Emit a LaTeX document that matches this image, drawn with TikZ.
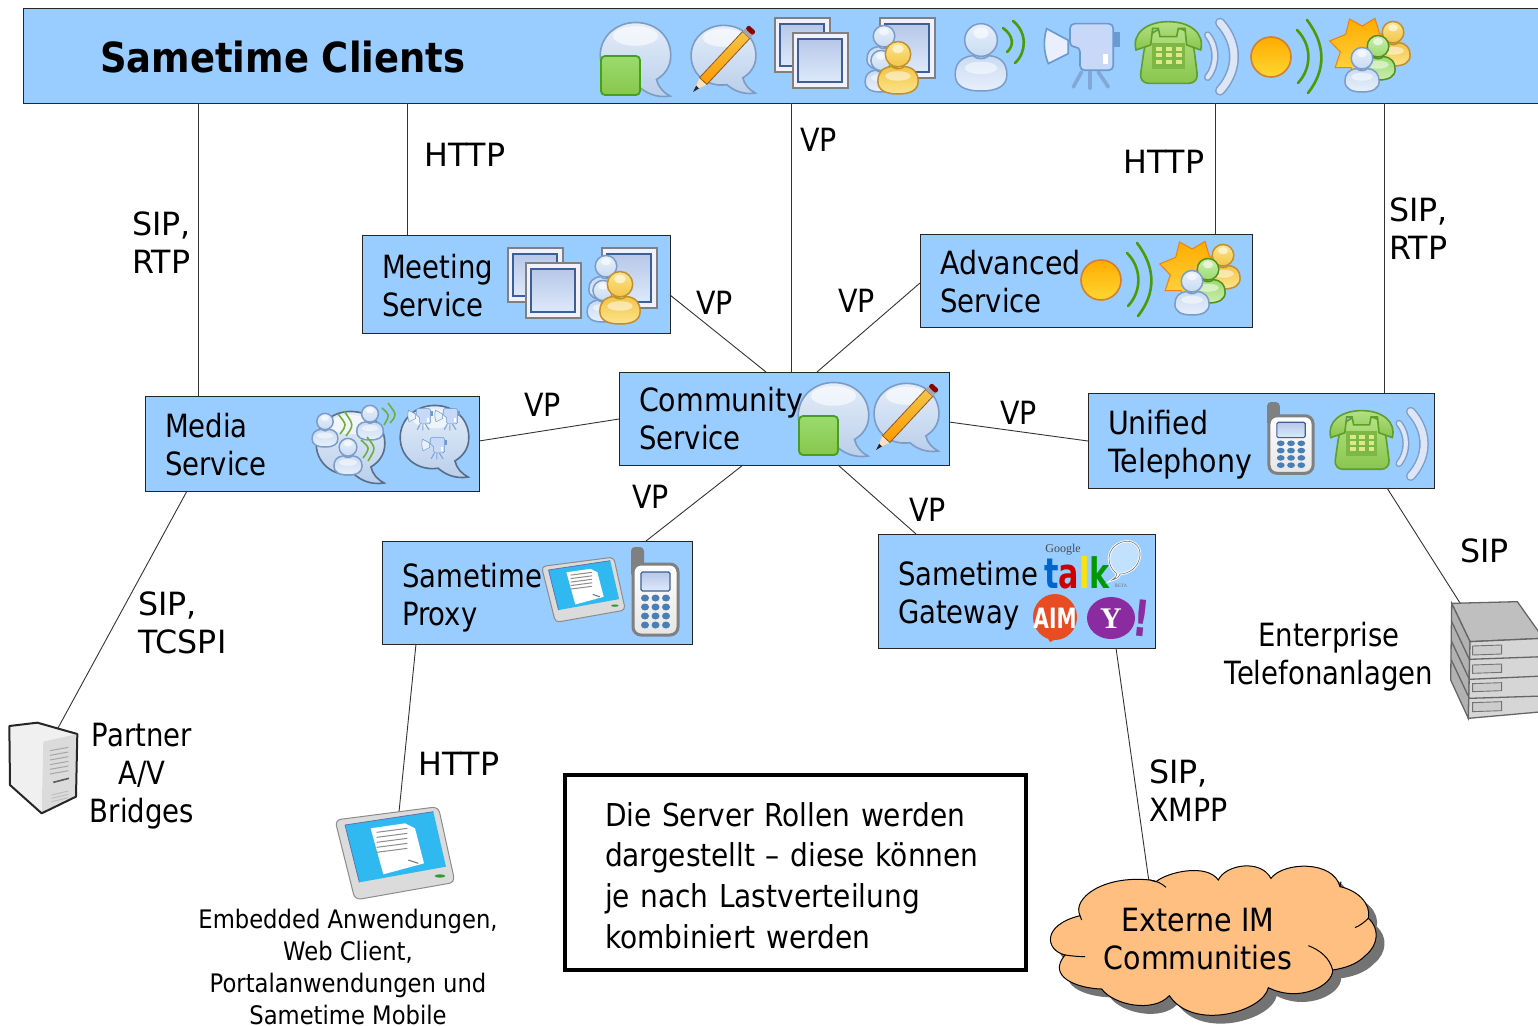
\documentclass[tikz,border=0pt]{standalone}
\usepackage{fontspec}
\setmainfont[FakeStretch=0.89]{DejaVu Sans}
\newfontfamily\narrowf[FakeStretch=0.86]{DejaVu Sans}
\newfontfamily\widef[FakeStretch=0.99]{DejaVu Sans}
\newfontfamily\talkfont[FakeStretch=0.72]{DejaVu Sans}
\newfontfamily\logoserif{Liberation Serif}
\definecolor{boxblue}{HTML}{99CCFF}
\definecolor{cloudfill}{HTML}{FFBF80}
\definecolor{bubline}{HTML}{7C9CC4}
\definecolor{bubtop}{HTML}{E4EDFA}
\definecolor{bubbot}{HTML}{B9CEEA}
\definecolor{wavegreen}{HTML}{4E9A06}
\definecolor{frametop}{HTML}{B7C7E8}
\definecolor{framebot}{HTML}{DDE9FB}
\definecolor{frameline}{HTML}{3B5F96}
\definecolor{ptop}{HTML}{C9DBF2}
\definecolor{pbot}{HTML}{E8F0FB}
\definecolor{pline}{HTML}{7B9CC9}
\definecolor{ytop}{HTML}{F3C548}
\definecolor{ybot}{HTML}{FBE48C}
\definecolor{yline}{HTML}{C09030}
\definecolor{gtop}{HTML}{9ADB6E}
\definecolor{gbot}{HTML}{CDEDB0}
\definecolor{gline}{HTML}{4F9020}
\definecolor{camfill}{HTML}{C8D8F8}
\definecolor{camline}{HTML}{6A9AD0}
\definecolor{phonetop}{HTML}{B4E084}
\definecolor{phonebot}{HTML}{88C64C}
\definecolor{phoneline}{HTML}{5F9E28}
\definecolor{phonepad}{HTML}{7DB845}
\definecolor{phonekey}{HTML}{DDE88A}
\definecolor{wavefill}{HTML}{DCE6F6}
\definecolor{waveline}{HTML}{7F9DC6}
\definecolor{keyblue}{HTML}{4A7FB5}
\definecolor{scrcyan}{HTML}{30B8F0}
\definecolor{aimred}{HTML}{E84C22}
\definecolor{yahoo}{HTML}{8A2BA0}
\tikzset{
  box/.style={draw=black!85,fill=boxblue,anchor=north west,align=left,inner xsep=20pt,inner ysep=0pt,outer sep=0pt,line width=1pt,font=\fontsize{32}{38}\selectfont},
  lbl/.style={anchor=west,align=left,inner sep=0pt,font=\fontsize{32}{38}\selectfont},
  clbl/.style={anchor=center,align=center,inner sep=0pt,font=\fontsize{32}{38}\selectfont},
  link/.style={draw=black!80,line width=0.9pt},
  gwave/.style={draw=wavegreen,line width=2.6pt,line cap=round},
}
\newcommand{\dn}[1]{\rule{0pt}{#1pt}}
% speech bubble, 100 units wide
\newcommand{\icBubble}[4][bubline]{\begin{scope}[shift={(#2,#3)},scale=#4]
\draw[#1,line width=1.6pt,top color=bubtop,bottom color=bubbot]
 (96,100) .. controls (78,103) and (64,96) .. (55,88) .. controls (25,92) and (3,72) .. (3,46)
 .. controls (3,20) and (25,2) .. (50,2) .. controls (77,2) and (97,20) .. (97,46)
 .. controls (97,62) and (88,72) .. (78,78) .. controls (80,88) and (88,96) .. (96,100) -- cycle;
\fill[white,opacity=.6] (50,20) ellipse (30 and 13);
\end{scope}}
\newcommand{\icSquare}[2]{\draw[draw=gline!85!green,line width=1.8pt,rounded corners=4pt,top color=gtop,bottom color=phonebot] (#1,#2) rectangle ++(39,39);}
\newcommand{\icPencil}[4]{\begin{scope}[shift={(#1,#2)},rotate=#3]
\fill[black!85] (0,0) -- (7,-2) -- (7,2) -- cycle;
\fill[orange!25!white] (7,-2) -- (15,-5) -- (15,5) -- (7,2) -- cycle;
\draw[draw=brown!70!black,line width=.8pt,top color=ytop,bottom color=orange!80!yellow] (15,-5) rectangle (#4-9,5);
\fill[black!35] (#4-9,-5) rectangle (#4-5,5);
\fill[red!55!black,rounded corners=2pt] (#4-5,-5) rectangle (#4,5);
\end{scope}}
\newcommand{\icFrame}[4]{\draw[black!50,fill=white!94!blue,line width=1.2pt] (#1,#2) rectangle (#3,#4);
\draw[draw=frameline,line width=1.2pt,top color=frametop,bottom color=framebot] (#1+5,#2+6) rectangle (#3-6,#4-6);}
% person: #1 centre x, #2 top y, #3 scale, #4 top colour, #5 bottom colour, #6 line
\newcommand{\icPerson}[6]{\begin{scope}[shift={(#1,#2)},scale=#3]
\draw[draw=#6,line width=1.5pt,top color=#4,bottom color=#5]
 (-12,48) .. controls (-30,50) and (-38,60) .. (-38,76) .. controls (-38,92) and (-25,100) .. (0,100)
 .. controls (25,100) and (38,92) .. (38,76) .. controls (38,60) and (30,50) .. (12,48)
 .. controls (5,54) and (-5,54) .. (-12,48) -- cycle;
\fill[white,opacity=.5] (0,66) ellipse (24 and 9);
\draw[draw=#6,line width=1.5pt,top color=#5,bottom color=#4] (0,25) circle (24);
\fill[white,opacity=.6] (0,15) ellipse (11 and 8);
\end{scope}}
\newcommand{\bluePerson}[3]{\icPerson{#1}{#2}{#3}{ptop}{pbot}{pline}}
\newcommand{\yellowPerson}[3]{\icPerson{#1}{#2}{#3}{ytop}{ybot}{yline}}
\newcommand{\greenPerson}[3]{\icPerson{#1}{#2}{#3}{gtop}{gbot}{gline}}
% camera, in its own 230x205 unit box
\newcommand{\icCamera}[3]{\begin{scope}[shift={(#1,#2)},scale=#3,draw=camline,line width=#3*5pt]
\draw[fill=white!60!camfill] (5,20) -- (70,55) -- (70,95) -- (10,125) .. controls (-5,90) and (-5,50) .. (5,20) -- cycle;
\fill[camline] (195,30) rectangle (225,75);
\draw[line width=#3*11pt,line cap=round,draw=camline!85] (110,150) -- (85,195) (135,150) -- (135,200) (160,150) -- (190,195);
\draw[rounded corners=#3*14pt,fill=camfill] (75,5) -- (205,5) -- (205,145) -- (105,145) -- (105,75) -- (75,75) -- cycle;
\fill[white] (175,95) rectangle (188,125);
\end{scope}}
% green telephone with pale waves, in zoom units
\newcommand{\icPhone}[3]{\begin{scope}[shift={(#1,#2)},scale=#3]
\draw[draw=phoneline,line width=1.6pt,top color=phonetop,bottom color=phonebot,rounded corners=#3*28pt] (345,130) -- (375,85) -- (470,85) -- (490,130) -- (505,250) -- (328,250) -- cycle;
\draw[draw=phoneline,line width=1.6pt,top color=phonetop,bottom color=phonebot] (318,150) .. controls (305,100) and (350,65) .. (415,65) .. controls (480,65) and (525,100) .. (512,150) -- (470,135) -- (465,85) -- (445,85) -- (440,110) -- (390,110) -- (385,85) -- (368,85) -- (362,135) -- cycle;
\fill[phonepad] (365,130) rectangle (465,208);
\foreach \a in {388,417,446}\foreach \b in {147,166,186}{\fill[phonekey] (\a-9,\b-6) rectangle (\a+9,\b+6);}
\draw[waveline,line width=#3*22pt,line cap=round] (533,105) .. controls (562,140) and (562,197) .. (533,232);
\draw[wavefill,line width=#3*13pt,line cap=round] (533,105) .. controls (562,140) and (562,197) .. (533,232);
\draw[waveline,line width=#3*30pt,line cap=round] (570,68) .. controls (626,130) and (626,210) .. (570,272);
\draw[wavefill,line width=#3*21pt,line cap=round] (570,68) .. controls (626,130) and (626,210) .. (570,272);
\end{scope}}
% orange dot, waves, star and three persons
\newcommand{\icAdvanced}[2]{\begin{scope}[shift={(#1,#2)}]
\draw[draw=brown!70!orange,line width=1.6pt,top color=orange!65!yellow,bottom color=yellow!60!orange!80!white] (1271,57) circle (20);
\draw[gwave] (1297,30) .. controls (1312,45) and (1312,68) .. (1298,83);
\draw[gwave] (1307,20) .. controls (1326,45) and (1326,70) .. (1308,93);
\begin{scope}[shift={(1363,48)}]
\draw[draw=orange!80!brown,line width=1pt,top color=orange!65!yellow,bottom color=yellow!60!orange!70!white] (95:35) \foreach \a/\r in {122/23,145/34,170/23,192/34,218/22,245/32,268/22,292/32,318/22,340/30,10/22,38/32,62/22} { -- (\a:\r) } -- cycle;
\end{scope}
\yellowPerson{1393}{21}{.45}
\greenPerson{1378}{35}{.45}
\bluePerson{1362}{47}{.45}
\end{scope}}
\newcommand{\icMobile}[4]{\begin{scope}[shift={(#1,#2)},xscale=#3,yscale=#4]
\fill[black!50,rounded corners=4pt] (0,0) rectangle (13,30);
\draw[draw=black!50,line width=3pt,rounded corners=8pt,top color=white,bottom color=black!10] (2,17) rectangle (47,88);
\draw[draw=frameline,line width=1.1pt,top color=frametop,bottom color=framebot,rounded corners=1.5pt] (10,25) rectangle (39,44);
\foreach \a in {14,24.5,35}\foreach \b in {51,60,69,78}{\fill[keyblue] (\a,\b) ellipse (4 and 3.5);}
\end{scope}}
% tablet, in zoom units
\newcommand{\icTablet}[3]{\begin{scope}[shift={(#1,#2)},scale=#3]
\draw[draw=black!45,line width=1pt,fill=black!14,rounded corners=#3*18pt] (45,75) -- (355,35) -- (405,262) -- (105,315) -- cycle;
\fill[scrcyan] (75,90) -- (340,50) -- (378,215) -- (118,262) -- cycle;
\draw[blue!40!black!60,line width=.7pt] (75,90) -- (340,50) (75,90) -- (118,262);
\fill[white] (152,100) -- (255,85) -- (285,100) -- (312,205) -- (190,238) -- cycle;
\foreach \t in {0,1,2,3,4}{\draw[black!45,line width=1pt] (170,112+\t*15) -- (262,100+\t*15);}
\draw[black!55,line width=1pt] (265,195) -- (295,205);
\fill[green!50!black!80] (360,243) ellipse (16 and 5);
\end{scope}}
% cloud outline, in zoom units
\newcommand{\cloudpath}{(348,80) .. controls (385,50) and (500,25) .. (535,75) .. controls (555,30) and (660,10) .. (693,70)
 .. controls (730,20) and (880,15) .. (900,95) .. controls (950,105) and (995,145) .. (985,190) .. controls (1020,220) and (1015,270) .. (978,300) .. controls (950,330) and (910,340) .. (878,345)
 .. controls (880,390) and (780,445) .. (685,398) .. controls (670,470) and (460,530) .. (388,422) .. controls (340,475) and (220,450) .. (185,402)
 .. controls (110,400) and (20,365) .. (75,300) .. controls (15,285) and (5,210) .. (120,182) .. controls (95,130) and (190,60) .. (330,75) -- cycle}
\begin{document}
\begin{tikzpicture}[x=1pt,y=-1pt]
\useasboundingbox (0,0) rectangle (1538,1025);
\clip (0,0) rectangle (1538,1025);
% boxes
\node[box,text width=1507pt,minimum height=94pt] (clients) at (23,9) {};
\node[inner sep=0pt,anchor=west,font=\fontsize{41.5}{48}\selectfont\bfseries] (title) at (100,57) {Sametime Clients};
\node[box,text width=268pt,minimum height=98pt] (meeting) at (362,235) {\dn{27}{\narrowf Meeting}\\{\narrowf Service}};
\node[box,text width=292pt,minimum height=93pt] (advanced) at (920,234) {\dn{26}Advanced\\{\narrowf Service}};
\node[box,text width=290pt,minimum height=93pt] (community) at (619,372) {\dn{25}Community\\{\narrowf Service}};
\node[box,text width=294pt,minimum height=95pt] (media) at (145,396) {\dn{26}{\narrowf Media}\\{\narrowf Service}};
\node[box,text width=306pt,minimum height=95pt] (unified) at (1088,393) {\dn{32}Unified\\Telephony};
\node[box,text width=270pt,minimum height=103pt] (proxy) at (382,541) {\dn{34}{\narrowf Sametime}\\{\narrowf Proxy}};
\node[box,text width=237pt,minimum height=114pt] (gateway) at (878,534) {\dn{34}{\narrowf Sametime}\\{\narrowf Gateway}};
\node[box,fill=white,draw=black,line width=4pt,inner xsep=40pt,text width=381pt,minimum height=195pt,font=\fontsize{31.5}{40.7}\selectfont] (note) at (565,775) {\dn{30}Die Server Rollen werden\\dargestellt -- diese können\\je nach Lastverteilung\\kombiniert werden};
% free connector ends
\coordinate (tower) at (58,728);
\coordinate (rack) at (1460,603);
\coordinate (tablet) at (399,812);
\coordinate (cloudtop) at (1149,882);
% connectors
\draw[link] ([xshift=175pt]clients.south west) -- ([xshift=53pt]media.north west);
\draw[link] ([xshift=384pt]clients.south west) -- ([xshift=45pt]meeting.north west);
\draw[link] ([xshift=768pt]clients.south west) -- ([xshift=172pt]community.north west);
\draw[link] ([xshift=1192pt]clients.south west) -- ([xshift=295pt]advanced.north west);
\draw[link] ([xshift=1361pt]clients.south west) -- ([xshift=296pt]unified.north west);
\draw[link] ([yshift=-60pt]meeting.north east) -- ([xshift=147pt]community.north west);
\draw[link] ([yshift=-49pt]advanced.north west) -- ([xshift=198pt]community.north west);
\draw[link] ([yshift=-45pt]media.north east) -- ([yshift=-47pt]community.north west);
\draw[link] ([yshift=-50pt]community.north east) -- ([yshift=-48pt]unified.north west);
\draw[link] ([xshift=124pt]community.south west) -- ([xshift=264pt]proxy.north west);
\draw[link] ([xshift=219pt]community.south west) -- ([xshift=38pt]gateway.north west);
\draw[link] ([xshift=42pt]media.south west) -- (tower);
\draw[link] ([xshift=299pt]unified.south west) -- (rack);
\draw[link] ([xshift=34pt]proxy.south west) -- (tablet);
\draw[link] ([xshift=238pt]gateway.south west) -- (cloudtop);
% labels
\node[lbl] (l1) at (132,243) {{\widef SIP,}\\{\widef RTP}};
\node[lbl] (l2) at (424,155) {\widef HTTP};
\node[lbl] (l3) at (800,140) {VP};
\node[lbl] (l4) at (1123,162) {\widef HTTP};
\node[lbl] (l5) at (1389,229) {{\widef SIP,}\\{\widef RTP}};
\node[lbl] (l6) at (696,303) {VP};
\node[lbl] (l7) at (838,301) {VP};
\node[lbl] (l8) at (524,405) {VP};
\node[lbl] (l9) at (1000,413) {VP};
\node[lbl] (l10) at (632,497) {VP};
\node[lbl] (l11) at (909,510) {VP};
\node[lbl] (l12) at (1460,551) {\widef SIP};
\node[lbl] (l13) at (138,623) {{\widef SIP,}\\{\widef TCSPI}};
\node[clbl] (l14) at (142,776) {{\narrowf Partner}\\{\narrowf A/V}\\{\narrowf Bridges}};
\node[lbl] (l15) at (418,764) {\widef HTTP};
\node[clbl] (l16) at (1329,657) {{\narrowf Enterprise}\\{\narrowf Telefonanlagen}};
\node[lbl] (l17) at (1149,791) {{\widef SIP,}\\XMPP};
\node[clbl,font=\fontsize{25.5}{32}\selectfont] (l18) at (348,967) {Embedded Anwendungen,\\Web Client,\\Portalanwendungen und\\Sametime Mobile};
% client icons
\icBubble{598}{21}{.75}\icSquare{601}{56}
\icBubble{689}{24}{.69}\icPencil{693}{92}{47}{87}
\icFrame{775}{18}{830}{72}\icFrame{793}{33}{848}{88}
\icFrame{880}{18}{935}{78}\bluePerson{884}{25}{.45}\bluePerson{881}{50}{.42}\yellowPerson{898}{41}{.53}
\bluePerson{981}{23}{.68}
\draw[gwave] (1003,28) .. controls (1014,36) and (1014,46) .. (1007,52);
\draw[gwave] (1013,21) .. controls (1027,32) and (1027,52) .. (1015,63);
\icCamera{1045}{22}{.333}
\icPhone{1030}{0}{.3333}
\icAdvanced{0}{0}
% meeting
\icFrame{508}{248}{563}{302}\icFrame{526}{263}{581}{318}
\icFrame{602}{248}{657}{308}\bluePerson{606}{255}{.45}\bluePerson{603}{280}{.42}\yellowPerson{620}{271}{.53}
% advanced
\icAdvanced{-170}{223}
% community
\icBubble{796}{381}{.75}\icSquare{799}{416}
\icBubble{872}{382}{.69}\icPencil{876}{450}{47}{87}
% media
\icBubble[black!30!bubline]{314}{410}{.73}
\bluePerson{325}{413}{.34}\bluePerson{370}{405}{.35}\bluePerson{348}{438}{.37}
\draw[wavegreen!80,line width=1.6pt] (338,414) .. controls (347,425) .. (340,434) (344,411) .. controls (354,425) .. (346,436);
\draw[wavegreen!80,line width=1.6pt] (382,408) .. controls (390,415) .. (384,425) (388,403) .. controls (397,415) .. (390,423);
\draw[wavegreen!80,line width=1.6pt] (361,440) .. controls (370,448) .. (363,458) (367,437) .. controls (376,448) .. (368,461);
\icBubble[black!30!bubline]{398}{404}{.73}
\icCamera{408}{408}{.11}\icCamera{435}{408}{.11}\icCamera{422}{437}{.11}
% unified
\icMobile{1267}{402}{.98}{.81}
\icPhone{1230}{390}{.317}
% proxy
\icTablet{531}{549}{.233}
\icMobile{631}{547}{1}{1}
% gateway logos
\node[inner sep=0pt,font=\logoserif\fontsize{12}{12}\selectfont,text=black!70] (glogo) at (1063,550) {Google};
\node[inner sep=0pt,anchor=base west,font=\talkfont\bfseries\fontsize{42}{42}\selectfont] (talk) at (1044,588) {\textcolor{blue!50!cyan!80!black}{t}\textcolor{red!80!black}{a}\textcolor{yellow!85!orange}{l}\textcolor{green!60!black}{k}};
\node[inner sep=0pt,font=\logoserif\fontsize{5}{5}\selectfont,text=black!55] (beta) at (1121,586) {BETA};
\draw[white,line width=2.4pt,fill=boxblue!60!white] (1112,580) .. controls (1116,577) .. (1117,574) .. controls (1106,566) and (1105,548) .. (1122,542) .. controls (1136,538) and (1143,550) .. (1139,560) .. controls (1136,570) and (1126,574) .. (1120,574) .. controls (1118,578) .. (1112,580) -- cycle;
\draw[black!55,line width=.6pt] (1112,580) .. controls (1116,577) .. (1117,574) .. controls (1106,566) and (1105,548) .. (1122,542) .. controls (1136,538) and (1143,550) .. (1139,560) .. controls (1136,570) and (1126,574) .. (1120,574) .. controls (1118,578) .. (1112,580) -- cycle;
\fill[aimred] (1055,617) ellipse (22 and 23);
\fill[aimred] (1046,635) -- (1050,642) -- (1058,638) -- cycle;
\node[inner sep=0pt,text=white,font=\talkfont\bfseries\fontsize{28}{28}\selectfont] (aim) at (1055,618) {AIM};
\fill[yahoo] (1111,618) ellipse (24 and 21);
\node[inner sep=0pt,text=white,font=\logoserif\bfseries\fontsize{30}{30}\selectfont] (yahooY) at (1111,619) {Y};
\node[inner sep=0pt,text=yahoo,rotate=-6,font=\talkfont\bfseries\fontsize{50}{50}\selectfont] (bang) at (1142,618) {!};
% rack
\begin{scope}[shift={(1430,590)},scale=.3333]
\draw[black!60,line width=1.3pt,fill=black!25] (65,40) -- (262,35) -- (340,145) -- (120,155) -- cycle;
\draw[black!60,line width=1.3pt,fill=black!30] (65,40) -- (120,155) -- (115,385) -- (62,270) -- cycle;
\draw[black!60,line width=1.3pt,fill=black!16] (120,155) -- (340,145) -- (340,365) -- (115,385) -- cycle;
\foreach \a/\b in {208/200,268/258,325/318}{\draw[black!60,line width=1.3pt] (118,\a) -- (340,\b);}
\foreach \a in {208,268,325}{\draw[black!60,line width=1.3pt] (118,\a) -- (64,\a-115);}
\foreach \a/\b in {165/195,222/250,278/305,335/365}{\draw[black!55,line width=.9pt,fill=black!20] (128,\a+3) -- (215,\a) -- (215,\b-3) -- (128,\b) -- cycle;}
\end{scope}
% tower
\begin{scope}[shift={(0,710)},scale=.3333]
\fill[black!6] (28,48) -- (112,38) -- (232,72) -- (228,260) -- (125,310) -- (30,225) -- cycle;
\fill[black!14] (130,95) -- (232,72) -- (228,260) -- (125,310) -- cycle;
\foreach \t in {0,1,2,3,4,5}{\draw[black!35,line width=1pt] (150,122+\t*14) -- (205,112+\t*14);}
\draw[black!65,line width=1.6pt] (160,217) -- (207,205);
\foreach \t in {0,1,2}{\draw[black!25,line width=1pt] (155,255+\t*10) -- (205,243+\t*10);}
\draw[black!85,line width=2pt,line join=round] (28,48) -- (112,38) -- (232,72) -- (228,260) -- (125,310) -- (30,225) -- cycle;
\end{scope}
% tablet under proxy link
\icTablet{320}{795}{.3333}
% cloud
\begin{scope}[shift={(1040,855)},scale=.3333]
\fill[black!55,shift={(25,25)}] \cloudpath;
\draw[black,line width=1pt,fill=cloudfill] \cloudpath;
\draw[black,line width=1pt] (330,75) .. controls (350,78) and (365,85) .. (378,97);
\draw[black,line width=1pt] (120,182) -- (125,195);
\draw[black,line width=1pt] (75,300) .. controls (95,303) and (115,305) .. (135,305);
\draw[black,line width=1pt] (985,190) .. controls (975,200) and (960,212) .. (945,218);
\draw[black,line width=1pt] (805,272) .. controls (840,285) and (870,310) .. (878,345);
\draw[black,line width=1pt] (900,95) -- (903,80);
\end{scope}
\node[clbl] (cloud) at (1198,939) {Externe IM\\Communities};
\end{tikzpicture}
\end{document}
